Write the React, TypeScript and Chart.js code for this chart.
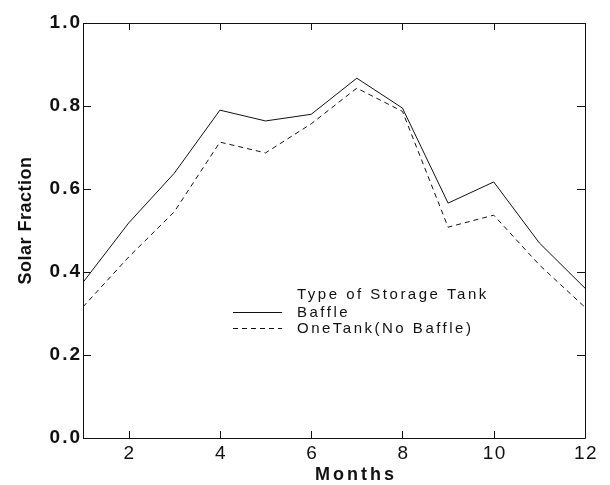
import React, { useEffect, useRef } from 'react';
import { Chart, registerables } from 'chart.js';

Chart.register(...registerables);

// ---- data ----
const MONTHS = [1, 2, 3, 4, 5, 6, 7, 8, 9, 10, 11, 12];
const BAFFLE = [0.375, 0.518, 0.638, 0.79, 0.764, 0.78, 0.867, 0.795, 0.566, 0.617, 0.47, 0.361];
const ONE_TANK = [0.316, 0.436, 0.545, 0.713, 0.687, 0.757, 0.843, 0.787, 0.508, 0.537, 0.417, 0.315];
const SERIES_LABELS = ['Baffle', 'OneTank(No Baffle)'];
const LEGEND_TITLE = 'Type of Storage Tank';
const X_TICKS = [2, 4, 6, 8, 10, 12];
const Y_TICKS = [0, 0.2, 0.4, 0.6, 0.8, 1.0];
const X_TITLE = 'Months';
const Y_TITLE = 'Solar Fraction';

const FONT = "'Liberation Sans', Arial, sans-serif";
const INK = '#111';

function patchDraw(scale: any, method: string, spacing: string, dx = 0, dy = 0) {
  scale.__patched = scale.__patched || {};
  if (scale.__patched[method]) return;
  scale.__patched[method] = true;
  const orig = scale[method];
  scale[method] = function (...args: any[]) {
    const ctx = this.ctx;
    ctx.save();
    ctx.letterSpacing = spacing;
    ctx.translate(dx, dy);
    orig.apply(this, args);
    ctx.restore();
  };
}

const framePlugin = {
  id: 'frame',
  afterDatasetsDraw(chart: any) {
    const { ctx, chartArea } = chart;
    const { left, right, top, bottom } = chartArea;
    const xs = chart.scales.x;
    const ys = chart.scales.y;
    ctx.save();
    ctx.strokeStyle = INK;
    ctx.lineWidth = 1;
    ctx.setLineDash([]);
    ctx.beginPath();
    ctx.rect(Math.round(left) + 0.5, Math.round(top) + 0.5, Math.round(right - left), Math.round(bottom - top));
    for (const v of X_TICKS) {
      const x = Math.round(xs.getPixelForValue(v)) + 0.5;
      ctx.moveTo(x, bottom);
      ctx.lineTo(x, bottom - 7);
      ctx.moveTo(x, top);
      ctx.lineTo(x, top + 7);
    }
    for (const v of Y_TICKS) {
      const y = Math.round(ys.getPixelForValue(v)) + 0.5;
      ctx.moveTo(left, y);
      ctx.lineTo(left + 8, y);
      ctx.moveTo(right, y);
      ctx.lineTo(right - 8, y);
    }
    ctx.stroke();
    ctx.restore();
  },
  afterDraw(chart: any) {
    const { ctx, chartArea } = chart;
    const { left, top } = chartArea;
    const lineX0 = left + 150;
    const lineX1 = left + 199;
    const textX = left + 214;
    const y0 = top + 272;
    const rowH = 16.5;
    ctx.save();
    ctx.letterSpacing = '2.5px';
    ctx.font = `15px ${FONT}`;
    ctx.fillStyle = INK;
    ctx.textBaseline = 'middle';
    ctx.textAlign = 'left';
    ctx.fillText(LEGEND_TITLE, textX, y0);
    chart.data.datasets.forEach((ds: any, i: number) => {
      const y = Math.round(y0 + rowH * (i + 1)) + 0.5;
      ctx.strokeStyle = ds.borderColor;
      ctx.lineWidth = 1;
      ctx.setLineDash(ds.borderDash || []);
      ctx.beginPath();
      ctx.moveTo(lineX0, y);
      ctx.lineTo(lineX1, y);
      ctx.stroke();
      ctx.fillText(ds.label, textX, y);
    });
    ctx.restore();
  },
};

export default function App() {
  const ref = useRef<HTMLCanvasElement | null>(null);
  useEffect(() => {
    if (!ref.current) return;
    const chart = new Chart(ref.current, {
      type: 'line',
      data: {
        datasets: [
          {
            label: SERIES_LABELS[0],
            data: MONTHS.map((m, i) => ({ x: m, y: BAFFLE[i] })),
            borderColor: INK,
            borderWidth: 1,
            pointRadius: 0,
            tension: 0,
            fill: false,
          },
          {
            label: SERIES_LABELS[1],
            data: MONTHS.map((m, i) => ({ x: m, y: ONE_TANK[i] })),
            borderColor: INK,
            borderWidth: 1,
            borderDash: [5, 4],
            pointRadius: 0,
            tension: 0,
            fill: false,
          },
        ],
      },
      options: {
        animation: false,
        responsive: true,
        maintainAspectRatio: false,
        layout: { padding: { left: 0, top: 23, right: 25, bottom: 0 } },
        plugins: {
          legend: { display: false },
          tooltip: { enabled: false },
        },
        scales: {
          x: {
            type: 'linear',
            min: 1,
            max: 12,
            afterBuildTicks: (s: any) => {
              s.ticks = X_TICKS.map((v) => ({ value: v }));
            },
            afterFit: (s: any) => {
              s.height = 47;
              patchDraw(s, 'drawLabels', '1.5px', 1, 0);
              patchDraw(s, 'drawTitle', '3px', 22, 1);
            },
            grid: { display: false, drawTicks: false },
            border: { display: false },
            ticks: {
              padding: 4,
              color: INK,
              maxRotation: 0,
              autoSkip: false,
              font: { family: FONT, size: 19, weight: 'normal' },
              callback: (v: any) => String(v),
            },
            title: {
              display: true,
              text: X_TITLE,
              color: INK,
              font: { family: FONT, size: 18, weight: 'bold' },
              padding: { top: 0, bottom: 0 },
            },
          },
          y: {
            type: 'linear',
            min: 0,
            max: 1,
            afterBuildTicks: (s: any) => {
              s.ticks = Y_TICKS.map((v) => ({ value: v }));
            },
            afterFit: (s: any) => {
              s.width = 83;
              patchDraw(s, 'drawLabels', '2px', 1, 0);
              patchDraw(s, 'drawTitle', '0.5px', 0, -10);
            },
            grid: { display: false, drawTicks: false },
            border: { display: false },
            ticks: {
              padding: 2,
              color: INK,
              autoSkip: false,
              font: { family: FONT, size: 19, weight: 'bold' },
              callback: (v: any) => Number(v).toFixed(1),
            },
            title: {
              display: true,
              text: Y_TITLE,
              color: INK,
              font: { family: FONT, size: 18, weight: 'bold' },
              padding: { top: 15, bottom: 0 },
            },
          },
        },
      },
      plugins: [framePlugin],
    } as any);
    return () => chart.destroy();
  }, []);

  return (
    <div style={{ position: 'fixed', left: 0, top: 0, width: 610, height: 485, background: '#fff' }}>
      <canvas ref={ref} />
    </div>
  );
}
